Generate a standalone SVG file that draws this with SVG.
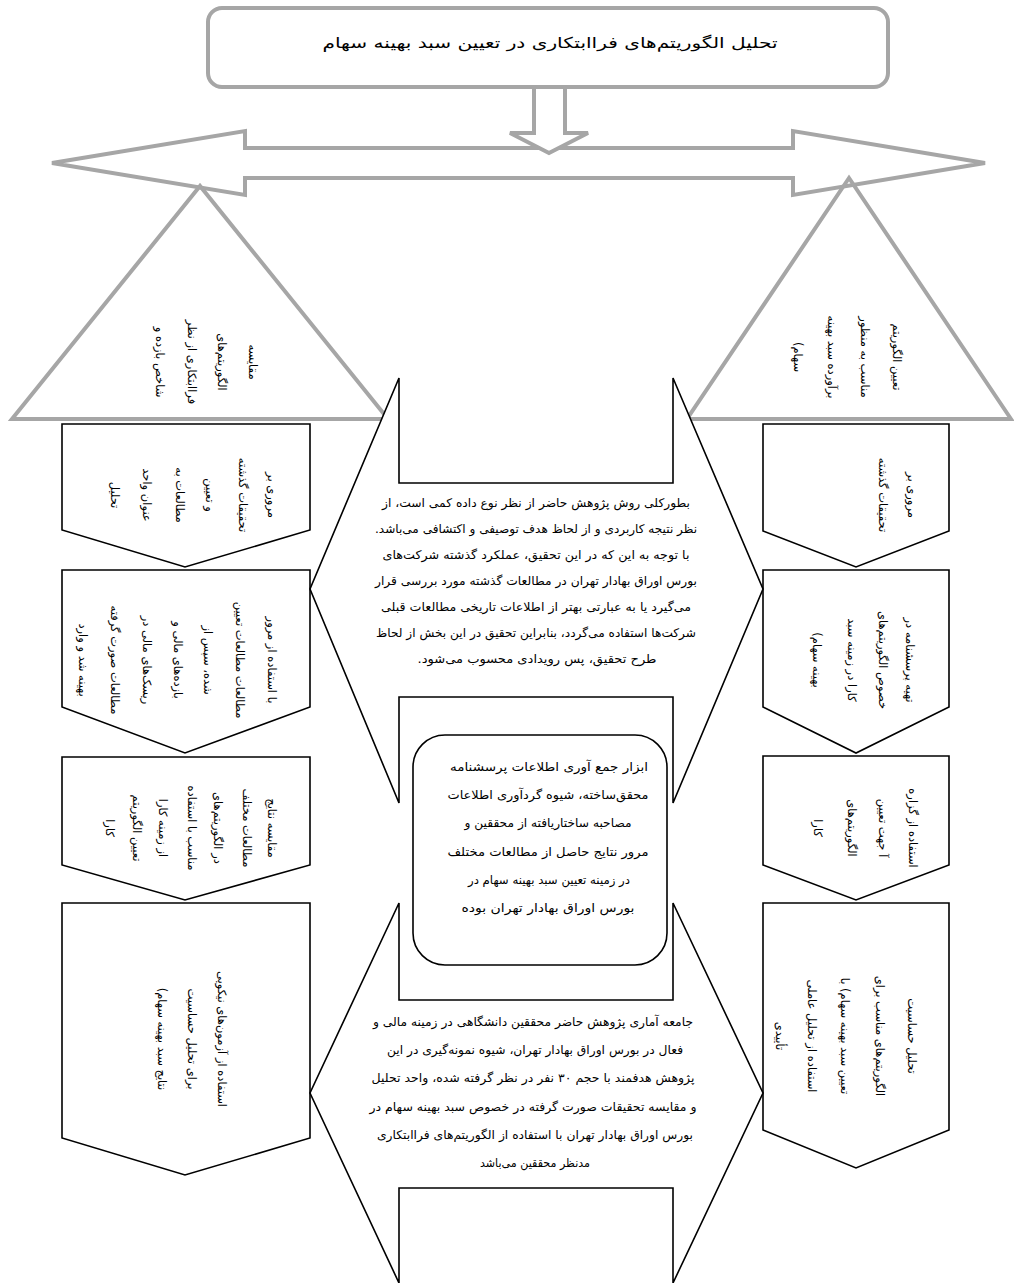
<svg xmlns="http://www.w3.org/2000/svg" width="1014" height="1283" viewBox="0 0 1014 1283">
<style>
.g{fill:#fff;stroke:#a6a6a6;stroke-width:4;stroke-linejoin:miter}
.gn{fill:none;stroke:#a6a6a6;stroke-width:4;stroke-linejoin:miter}
.b{fill:#fff;stroke:#000;stroke-width:1.6;stroke-linejoin:miter}
text{font-family:"DejaVu Sans",sans-serif;fill:#000;font-size:11.5px;dominant-baseline:central;text-anchor:middle;direction:rtl;unicode-bidi:embed}
.c{font-size:12px}
</style>
<rect width="1014" height="1283" fill="#fff"/>
<g id="connectors">
<polygon class="g" points="52,163 245,131 245,148 793,148 793,131 985,163 793,195 793,178 245,178 245,195"/>
<polygon class="g" points="534,70 565,70 565,133 588,133 549,153 510,133 534,133"/>
</g>
<g id="title">
<rect class="g" x="208" y="8" width="680" height="79" rx="14"/>
<text x="550" y="43" style="font-size:15px" textLength="455" lengthAdjust="spacingAndGlyphs">تحلیل الگوریتم‌های فراابتکاری در تعیین سبد بهینه سهام</text>
</g>
<g id="tri-left">
<polygon class="gn" points="200,186 12,419 388,419"/>
<text transform="translate(253,362) rotate(90)">مقایسه</text>
<text transform="translate(222,362) rotate(90)">الگوریتم‌های</text>
<text transform="translate(192,362) rotate(90)">فراابتکاری از نظر</text>
<text transform="translate(160,362) rotate(90)">شاخص بازده و</text>
</g>
<g id="tri-right">
<polygon class="gn" points="849,178 687,419 1011,419"/>
<text transform="translate(897,357) rotate(90)">تعیین الگوریتم</text>
<text transform="translate(865,357) rotate(90)">مناسب به منظور</text>
<text transform="translate(832,357) rotate(90)">برآورده سبد بهینه</text>
<text transform="translate(798,357) rotate(90)">سهام)</text>
</g>
<g id="left-1">
<polygon class="b" points="62,424 310,424 310,530 185,567 62,530"/>
<text transform="translate(272,495) rotate(90)">مروری بر</text>
<text transform="translate(243,495) rotate(90)">تحقیقات گذشته</text>
<text transform="translate(210,495) rotate(90)">و تعیین</text>
<text transform="translate(180,495) rotate(90)">مطالعات به</text>
<text transform="translate(147,495) rotate(90)">عنوان واحد</text>
<text transform="translate(115,495) rotate(90)">تحلیل</text>
</g>
<g id="left-2">
<polygon class="b" points="62,570 310,570 310,707 185,753 62,707"/>
<text transform="translate(272,660) rotate(90)">با استفاده از مرور</text>
<text transform="translate(240,660) rotate(90)">مطالعات مطالعات تعیین</text>
<text transform="translate(208,660) rotate(90)">شده، سپس از</text>
<text transform="translate(178,660) rotate(90)">بازده‌های مالی و</text>
<text transform="translate(147,660) rotate(90)">ریسک‌های مالی در</text>
<text transform="translate(115,660) rotate(90)">مطالعات صورت گرفته</text>
<text transform="translate(83,660) rotate(90)">بهینه شد و وارد</text>
</g>
<g id="left-3">
<polygon class="b" points="62,757 310,757 310,865 185,900 62,865"/>
<text transform="translate(272,828) rotate(90)">مقایسه نتایج</text>
<text transform="translate(247,828) rotate(90)">مطالعات مختلف</text>
<text transform="translate(218,828) rotate(90)">در الگوریتم‌های</text>
<text transform="translate(192,828) rotate(90)">مناسب با استفاده</text>
<text transform="translate(163,828) rotate(90)">از زمینه کارا</text>
<text transform="translate(137,828) rotate(90)">تعیین الگوریتم</text>
<text transform="translate(110,828) rotate(90)">کارا</text>
</g>
<g id="left-4">
<polygon class="b" points="62,903 310,903 310,1138 185,1175 62,1138"/>
<text transform="translate(222,1039) rotate(90)">استفاده از آزمون‌های نیکویی</text>
<text transform="translate(192,1039) rotate(90)">برای تحلیل حساسیت</text>
<text transform="translate(162,1039) rotate(90)">نتایج سبد بهینه سهام)</text>
</g>
<g id="right-1">
<polygon class="b" points="763,424 949,424 949,531 856,567 763,531"/>
<text transform="translate(912,495) rotate(90)">مروری بر</text>
<text transform="translate(883,495) rotate(90)">تحقیقات گذشته</text>
</g>
<g id="right-2">
<polygon class="b" points="763,570 949,570 949,707 856,753 763,707"/>
<text transform="translate(910,660) rotate(90)">تهیه پرسشنامه در</text>
<text transform="translate(883,660) rotate(90)">خصوص الگوریتم‌های</text>
<text transform="translate(852,660) rotate(90)">کارا در زمینه سبد</text>
<text transform="translate(817,660) rotate(90)">بهینه سهام)</text>
</g>
<g id="right-3">
<polygon class="b" points="763,756 949,756 949,865 856,900 763,865"/>
<text transform="translate(913,828) rotate(90)">استفاده از گزاره</text>
<text transform="translate(883,828) rotate(90)">آ جهت تعیین</text>
<text transform="translate(852,828) rotate(90)">الگوریتم‌های</text>
<text transform="translate(818,828) rotate(90)">کارا</text>
</g>
<g id="right-4">
<polygon class="b" points="763,903 949,903 949,1130 856,1168 763,1130"/>
<text transform="translate(912,1036) rotate(90)">تحلیل حساسیت</text>
<text transform="translate(880,1036) rotate(90)">الگوریتم‌های مناسب برای</text>
<text transform="translate(845,1036) rotate(90)">تعیین سبد بهینه سهام) با</text>
<text transform="translate(812,1036) rotate(90)">استفاده از تحلیل عاملی</text>
<text transform="translate(780,1036) rotate(90)">تأییدی</text>
</g>
<g id="center-top">
<polygon class="b" points="399,378 399,483 673,483 673,378 763,589 673,803 673,697 399,697 399,803 310,589"/>
<text class="c" x="536" y="503" textLength="308" lengthAdjust="spacingAndGlyphs">بطورکلی روش پژوهش حاضر از نظر نوع داده کمی است، از</text>
<text class="c" x="536" y="529" textLength="322" lengthAdjust="spacingAndGlyphs">نظر نتیجه کاربردی و از لحاظ هدف توصیفی و اکتشافی می‌باشد.</text>
<text class="c" x="536" y="555" textLength="307" lengthAdjust="spacingAndGlyphs">با توجه به این که در این تحقیق، عملکرد گذشته شرکت‌های</text>
<text class="c" x="536" y="581" textLength="322" lengthAdjust="spacingAndGlyphs">بورس اوراق بهادار تهران در مطالعات گذشته مورد بررسی قرار</text>
<text class="c" x="536" y="607" textLength="310" lengthAdjust="spacingAndGlyphs">می‌گیرد یا به عبارتی  بهتر از اطلاعات تاریخی مطالعات قبلی</text>
<text class="c" x="536" y="633" textLength="320" lengthAdjust="spacingAndGlyphs">شرکت‌ها استفاده می‌گردد، بنابراین تحقیق در این بخش از لحاظ</text>
<text class="c" x="537" y="659" textLength="239" lengthAdjust="spacingAndGlyphs">طرح تحقیق، پس رویدادی محسوب می‌شود.</text>
</g>
<g id="center-mid">
<rect class="b" x="413" y="735" width="254" height="230" rx="32"/>
<text class="c" x="549" y="767" textLength="198" lengthAdjust="spacingAndGlyphs">ابزار جمع آوری اطلاعات پرسشنامه</text>
<text class="c" x="548" y="795" textLength="201" lengthAdjust="spacingAndGlyphs">محقق‌ساخته، شیوه گردآوری اطلاعات</text>
<text class="c" x="548" y="823" textLength="167" lengthAdjust="spacingAndGlyphs">مصاحبه ساختاریافته از محققین و</text>
<text class="c" x="548" y="852" textLength="201" lengthAdjust="spacingAndGlyphs">مرور نتایج حاصل از مطالعات مختلف</text>
<text class="c" x="549" y="880" textLength="162" lengthAdjust="spacingAndGlyphs">در زمینه تعیین سبد بهینه سهام در</text>
<text class="c" x="548" y="908" textLength="173" lengthAdjust="spacingAndGlyphs">بورس اوراق بهادار تهران بوده</text>
</g>
<g id="center-bottom">
<polygon class="b" points="399,903 399,1000 673,1000 673,903 763,1093 673,1283 673,1188 399,1188 399,1283 310,1093"/>
<text class="c" x="533" y="1022" textLength="320" lengthAdjust="spacingAndGlyphs">جامعه آماری پژوهش حاضر محققین دانشگاهی در زمینه مالی و</text>
<text class="c" x="535" y="1050" textLength="296" lengthAdjust="spacingAndGlyphs">فعال در بورس اوراق بهادار تهران، شیوه نمونه‌گیری در این</text>
<text class="c" x="533" y="1078" textLength="323" lengthAdjust="spacingAndGlyphs">پژوهش هدفمند با حجم ۳۰ نفر در نظر گرفته شده، واحد تحلیل</text>
<text class="c" x="533" y="1107" textLength="327" lengthAdjust="spacingAndGlyphs">و مقایسه تحقیقات صورت گرفته در خصوص سبد بهینه سهام در</text>
<text class="c" x="535" y="1135" textLength="316" lengthAdjust="spacingAndGlyphs">بورس اوراق بهادار تهران با استفاده از الگوریتم‌های فراابتکاری</text>
<text class="c" x="535" y="1163" textLength="110" lengthAdjust="spacingAndGlyphs">مدنظر محققین می‌باشد</text>
</g>
</svg>
